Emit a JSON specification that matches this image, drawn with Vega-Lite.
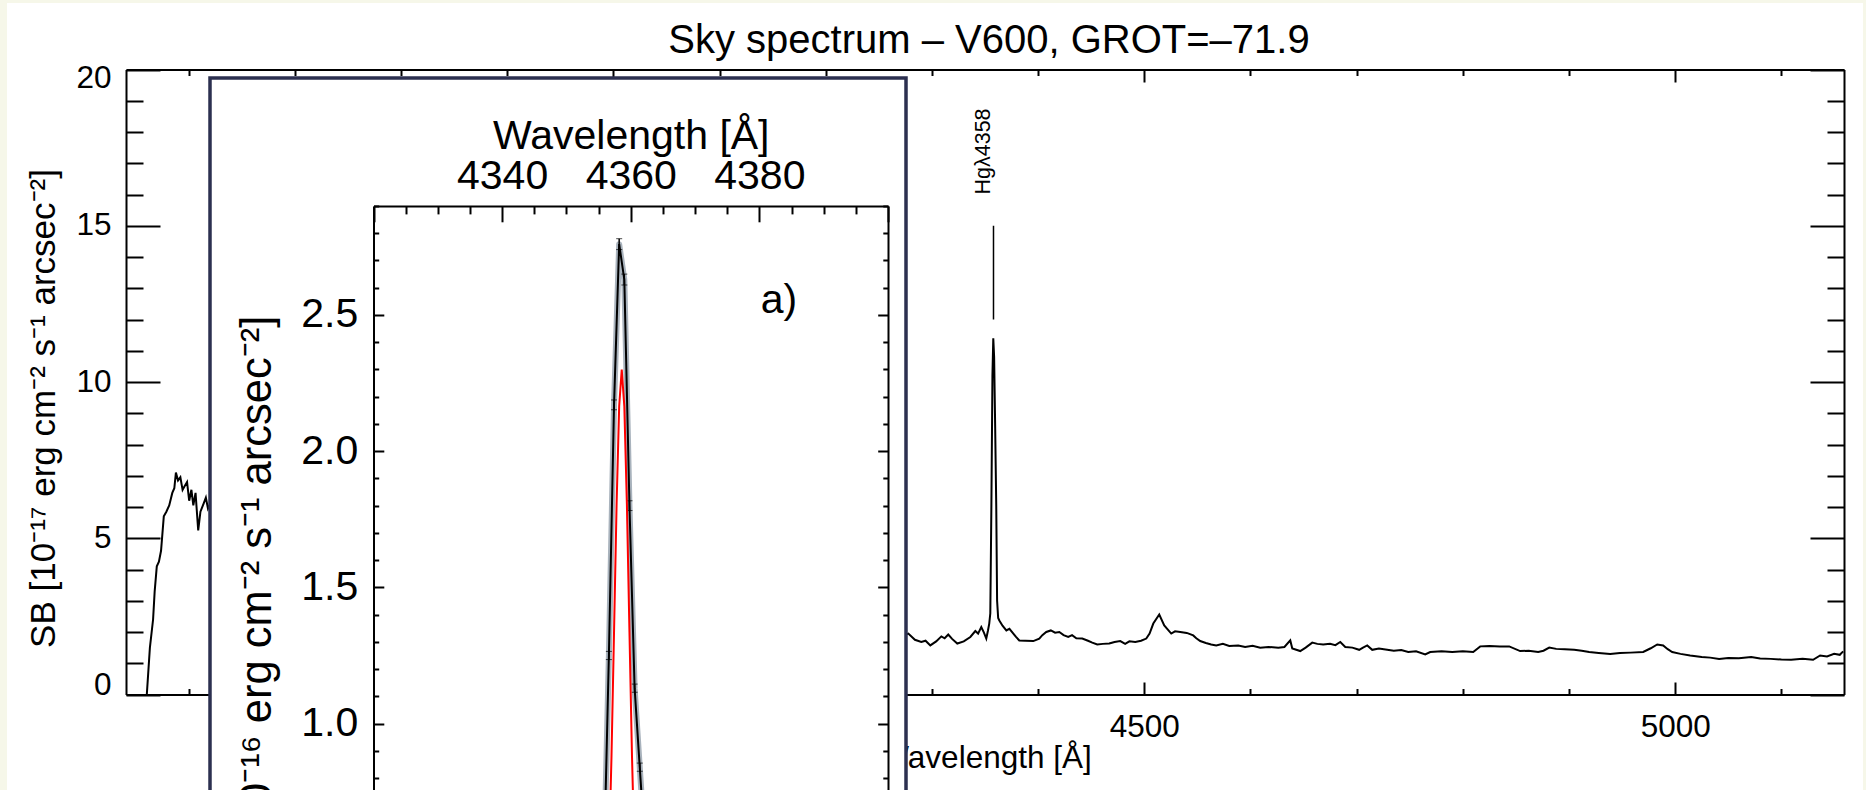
{
  "$schema": "https://vega.github.io/schema/vega-lite/v6.json",
  "width": 1856,
  "height": 787,
  "padding": {"left": 7, "top": 3, "right": 3, "bottom": 0},
  "autosize": {"type": "none"},
  "background": "#f6f7e9",
  "config": {
    "view": {"fill": "white", "stroke": null},
    "font": "Liberation Sans",
    "axis": {
      "grid": false,
      "domainColor": "black",
      "tickColor": "black",
      "labelColor": "black",
      "titleColor": "black",
      "labelFont": "Liberation Sans",
      "titleFont": "Liberation Sans",
      "titleFontWeight": "normal",
      "domainWidth": 2,
      "tickWidth": 2,
      "labelOverlap": false,
      "labelBound": false
    }
  },
  "title": {
    "text": "Sky spectrum – V600, GROT=–71.9",
    "font": "Liberation Sans",
    "fontSize": 40,
    "fontWeight": "normal",
    "color": "black",
    "anchor": "middle",
    "frame": "group",
    "baseline": "alphabetic",
    "offset": -90,
    "dx": 54
  },
  "datasets": {
    "main": [
      {"wl": 3560.6, "sb": 0}, {"wl": 3563.5, "sb": 1.5}, {"wl": 3566.5, "sb": 2.4}, {"wl": 3568, "sb": 3.3},
      {"wl": 3570, "sb": 4.1}, {"wl": 3572, "sb": 4.25}, {"wl": 3574, "sb": 4.6}, {"wl": 3576.6, "sb": 5.7},
      {"wl": 3579, "sb": 5.85}, {"wl": 3581.7, "sb": 6.05}, {"wl": 3584.6, "sb": 6.45}, {"wl": 3586.5, "sb": 6.6},
      {"wl": 3588, "sb": 7.1}, {"wl": 3590, "sb": 6.85}, {"wl": 3592.2, "sb": 6.95}, {"wl": 3594.3, "sb": 6.55},
      {"wl": 3595.9, "sb": 6.65}, {"wl": 3598.5, "sb": 6.8}, {"wl": 3600.5, "sb": 6.2}, {"wl": 3602.6, "sb": 6.55},
      {"wl": 3604.4, "sb": 6.05}, {"wl": 3606.5, "sb": 6.45}, {"wl": 3609, "sb": 5.25}, {"wl": 3611.1, "sb": 5.85},
      {"wl": 3614, "sb": 6.1}, {"wl": 3616.2, "sb": 6.3}, {"wl": 3618.2, "sb": 5.95}, {"wl": 3620.3, "sb": 6.1},
      {"wl": 3625, "sb": 5.8}, {"wl": 3700, "sb": 4.0}, {"wl": 3900, "sb": 2.5}, {"wl": 4100, "sb": 1.9},
      {"wl": 4265, "sb": 1.8}, {"wl": 4277.8, "sb": 1.95}, {"wl": 4284, "sb": 1.75}, {"wl": 4290.0, "sb": 1.68},
      {"wl": 4294, "sb": 1.72}, {"wl": 4298.5, "sb": 1.57}, {"wl": 4304, "sb": 1.7}, {"wl": 4308.9, "sb": 1.86},
      {"wl": 4312, "sb": 1.8}, {"wl": 4315.4, "sb": 1.92}, {"wl": 4319, "sb": 1.78}, {"wl": 4323.9, "sb": 1.63},
      {"wl": 4330, "sb": 1.7}, {"wl": 4336.2, "sb": 1.84}, {"wl": 4340.9, "sb": 2.03}, {"wl": 4343.5, "sb": 1.95},
      {"wl": 4346.5, "sb": 2.16}, {"wl": 4349, "sb": 1.98}, {"wl": 4351.2, "sb": 1.79}, {"wl": 4352.8, "sb": 2.05},
      {"wl": 4354.0, "sb": 2.27}, {"wl": 4355.0, "sb": 2.6}, {"wl": 4356.0, "sb": 6.0}, {"wl": 4357.0, "sb": 10.2},
      {"wl": 4357.8, "sb": 11.4}, {"wl": 4358.6, "sb": 10.8}, {"wl": 4359.6, "sb": 8.5}, {"wl": 4360.6, "sb": 6.0},
      {"wl": 4361.4, "sb": 3.0}, {"wl": 4362.4, "sb": 2.45}, {"wl": 4363.5, "sb": 2.37}, {"wl": 4366.5, "sb": 2.2},
      {"wl": 4370.1, "sb": 2.05}, {"wl": 4373, "sb": 2.1}, {"wl": 4376.7, "sb": 1.95}, {"wl": 4379, "sb": 1.85},
      {"wl": 4382.3, "sb": 1.73}, {"wl": 4388, "sb": 1.72}, {"wl": 4395.5, "sb": 1.71}, {"wl": 4401.1, "sb": 1.79},
      {"wl": 4404, "sb": 1.9}, {"wl": 4407.7, "sb": 2.0}, {"wl": 4412, "sb": 2.05}, {"wl": 4416, "sb": 1.98},
      {"wl": 4420.0, "sb": 2.0}, {"wl": 4424, "sb": 1.9}, {"wl": 4428.4, "sb": 1.84}, {"wl": 4432, "sb": 1.9},
      {"wl": 4436, "sb": 1.8}, {"wl": 4441.6, "sb": 1.79}, {"wl": 4447, "sb": 1.72}, {"wl": 4451, "sb": 1.66},
      {"wl": 4455.7, "sb": 1.6}, {"wl": 4461, "sb": 1.62}, {"wl": 4467.0, "sb": 1.63}, {"wl": 4472, "sb": 1.68},
      {"wl": 4477.4, "sb": 1.71}, {"wl": 4482, "sb": 1.62}, {"wl": 4486, "sb": 1.7}, {"wl": 4491.5, "sb": 1.68},
      {"wl": 4497, "sb": 1.72}, {"wl": 4501.9, "sb": 1.79}, {"wl": 4505, "sb": 1.95}, {"wl": 4508.5, "sb": 2.27},
      {"wl": 4514.1, "sb": 2.56}, {"wl": 4518.8, "sb": 2.21}, {"wl": 4525.4, "sb": 1.95}, {"wl": 4529, "sb": 2.02},
      {"wl": 4533.9, "sb": 2.0}, {"wl": 4540, "sb": 1.97}, {"wl": 4546.1, "sb": 1.89}, {"wl": 4549, "sb": 1.8},
      {"wl": 4552.7, "sb": 1.71}, {"wl": 4558, "sb": 1.65}, {"wl": 4563, "sb": 1.6}, {"wl": 4567.8, "sb": 1.57},
      {"wl": 4574, "sb": 1.62}, {"wl": 4580, "sb": 1.55}, {"wl": 4588.5, "sb": 1.57}, {"wl": 4595, "sb": 1.52},
      {"wl": 4602, "sb": 1.56}, {"wl": 4609.2, "sb": 1.5}, {"wl": 4617, "sb": 1.52}, {"wl": 4626.2, "sb": 1.5},
      {"wl": 4632, "sb": 1.52}, {"wl": 4637.5, "sb": 1.73}, {"wl": 4639.4, "sb": 1.47}, {"wl": 4646.9, "sb": 1.39},
      {"wl": 4652, "sb": 1.5}, {"wl": 4658.2, "sb": 1.66}, {"wl": 4663, "sb": 1.62}, {"wl": 4668.5, "sb": 1.6},
      {"wl": 4675, "sb": 1.62}, {"wl": 4680, "sb": 1.58}, {"wl": 4684.6, "sb": 1.68}, {"wl": 4689.3, "sb": 1.52},
      {"wl": 4696, "sb": 1.5}, {"wl": 4702.4, "sb": 1.43}, {"wl": 4706, "sb": 1.5}, {"wl": 4710.0, "sb": 1.57},
      {"wl": 4714.7, "sb": 1.43}, {"wl": 4721, "sb": 1.47}, {"wl": 4728.8, "sb": 1.43}, {"wl": 4735, "sb": 1.4},
      {"wl": 4742, "sb": 1.42}, {"wl": 4748.6, "sb": 1.36}, {"wl": 4756, "sb": 1.38}, {"wl": 4764.6, "sb": 1.28},
      {"wl": 4769.3, "sb": 1.36}, {"wl": 4780, "sb": 1.38}, {"wl": 4790, "sb": 1.36}, {"wl": 4800, "sb": 1.38},
      {"wl": 4809.8, "sb": 1.36}, {"wl": 4816.4, "sb": 1.54}, {"wl": 4825, "sb": 1.55}, {"wl": 4835, "sb": 1.54},
      {"wl": 4843.7, "sb": 1.54}, {"wl": 4854.0, "sb": 1.39}, {"wl": 4862, "sb": 1.4}, {"wl": 4871.0, "sb": 1.36},
      {"wl": 4876, "sb": 1.4}, {"wl": 4881.4, "sb": 1.5}, {"wl": 4888, "sb": 1.46}, {"wl": 4896, "sb": 1.45},
      {"wl": 4904.9, "sb": 1.43}, {"wl": 4912, "sb": 1.4}, {"wl": 4919.0, "sb": 1.36}, {"wl": 4928, "sb": 1.33},
      {"wl": 4938.8, "sb": 1.3}, {"wl": 4948, "sb": 1.33}, {"wl": 4958, "sb": 1.34}, {"wl": 4969.9, "sb": 1.36},
      {"wl": 4977, "sb": 1.48}, {"wl": 4983.1, "sb": 1.6}, {"wl": 4988.7, "sb": 1.57}, {"wl": 4993, "sb": 1.45},
      {"wl": 4997.2, "sb": 1.36}, {"wl": 5005, "sb": 1.3}, {"wl": 5014.1, "sb": 1.25}, {"wl": 5025, "sb": 1.2},
      {"wl": 5033, "sb": 1.18}, {"wl": 5041.4, "sb": 1.14}, {"wl": 5050, "sb": 1.17}, {"wl": 5060, "sb": 1.16},
      {"wl": 5071.6, "sb": 1.2}, {"wl": 5080, "sb": 1.15}, {"wl": 5090, "sb": 1.14}, {"wl": 5100, "sb": 1.12},
      {"wl": 5109.2, "sb": 1.11}, {"wl": 5120, "sb": 1.14}, {"wl": 5129.9, "sb": 1.11}, {"wl": 5136.5, "sb": 1.25},
      {"wl": 5143, "sb": 1.22}, {"wl": 5149.7, "sb": 1.3}, {"wl": 5155, "sb": 1.27}, {"wl": 5158.2, "sb": 1.38}
    ],
    "hg": [{"wl": 4358, "name": "Hgλ4358"}],
    "inset": [
      {"wl": 4320, "sb": 0.17, "lo": 0.155, "hi": 0.185},
      {"wl": 4330, "sb": 0.16, "lo": 0.145, "hi": 0.175},
      {"wl": 4340, "sb": 0.18, "lo": 0.165, "hi": 0.195},
      {"wl": 4350, "sb": 0.17, "lo": 0.155, "hi": 0.185},
      {"wl": 4353.4, "sb": 0.19, "lo": 0.175, "hi": 0.205},
      {"wl": 4354.2, "sb": 0.2, "lo": 0.185, "hi": 0.215},
      {"wl": 4355.0, "sb": 0.28, "lo": 0.265, "hi": 0.295},
      {"wl": 4355.8, "sb": 0.45, "lo": 0.435, "hi": 0.465},
      {"wl": 4356.6, "sb": 1.25, "lo": 1.235, "hi": 1.265},
      {"wl": 4357.4, "sb": 2.17, "lo": 2.152, "hi": 2.188},
      {"wl": 4358.2, "sb": 2.76, "lo": 2.74, "hi": 2.78},
      {"wl": 4359.0, "sb": 2.63, "lo": 2.61, "hi": 2.65},
      {"wl": 4359.8, "sb": 1.8, "lo": 1.782, "hi": 1.818},
      {"wl": 4360.6, "sb": 1.13, "lo": 1.115, "hi": 1.145},
      {"wl": 4361.4, "sb": 0.84, "lo": 0.825, "hi": 0.855},
      {"wl": 4362.2, "sb": 0.55, "lo": 0.535, "hi": 0.565},
      {"wl": 4363.0, "sb": 0.32, "lo": 0.305, "hi": 0.335},
      {"wl": 4363.8, "sb": 0.22, "lo": 0.205, "hi": 0.235},
      {"wl": 4365, "sb": 0.2, "lo": 0.185, "hi": 0.215},
      {"wl": 4370, "sb": 0.19, "lo": 0.175, "hi": 0.205},
      {"wl": 4380, "sb": 0.18, "lo": 0.165, "hi": 0.195},
      {"wl": 4390, "sb": 0.17, "lo": 0.155, "hi": 0.185},
      {"wl": 4400, "sb": 0.17, "lo": 0.155, "hi": 0.185}
    ],
    "model": [
      {"wl": 4320, "sb": 0}, {"wl": 4354.2, "sb": 0}, {"wl": 4354.6, "sb": 0.005}, {"wl": 4355.0, "sb": 0.017},
      {"wl": 4355.4, "sb": 0.048}, {"wl": 4355.8, "sb": 0.119}, {"wl": 4356.2, "sb": 0.261}, {"wl": 4356.6, "sb": 0.507},
      {"wl": 4357.0, "sb": 0.874}, {"wl": 4357.4, "sb": 1.335}, {"wl": 4357.8, "sb": 1.806}, {"wl": 4358.2, "sb": 2.165},
      {"wl": 4358.6, "sb": 2.3}, {"wl": 4359.0, "sb": 2.165}, {"wl": 4359.4, "sb": 1.806}, {"wl": 4359.8, "sb": 1.335},
      {"wl": 4360.2, "sb": 0.874}, {"wl": 4360.6, "sb": 0.507}, {"wl": 4361.0, "sb": 0.261}, {"wl": 4361.4, "sb": 0.119},
      {"wl": 4361.8, "sb": 0.048}, {"wl": 4362.2, "sb": 0.017}, {"wl": 4362.6, "sb": 0.005}, {"wl": 4363.0, "sb": 0},
      {"wl": 4400, "sb": 0}
    ]
  },
  "layer": [
    {
      "layer": [
        {
          "data": {"name": "main"},
          "mark": {"type": "line", "color": "black", "strokeWidth": 2},
          "encoding": {
            "x": {
              "field": "wl", "type": "quantitative",
              "scale": {"domain": [3541, 5159], "range": [119, 1837], "nice": false, "zero": false},
              "axis": {
                "orient": "bottom", "offset": -95.5,
                "values": [3600, 3700, 3800, 3900, 4000, 4100, 4200, 4300, 4400, 4500, 4600, 4700, 4800, 4900, 5000, 5100],
                "labelExpr": "datum.value % 500 === 0 ? format(datum.value, 'd') : ''",
                "tickSize": {"condition": {"test": "datum.value % 500 === 0", "value": -12.5}, "value": -6},
                "labelPadding": 54, "labelBaseline": "alphabetic", "labelFontSize": 31.5, "labelFlush": false,
                "title": "Wavelength [Å]", "titleFontSize": 31.5, "titleBaseline": "alphabetic", "titleY": 73
              }
            },
            "y": {
              "field": "sb", "type": "quantitative",
              "scale": {"domain": [0, 20], "range": [691.5, 66.5], "nice": false, "zero": false},
              "axis": {
                "orient": "left", "offset": -119,
                "values": [0, 1, 2, 3, 4, 5, 6, 7, 8, 9, 10, 11, 12, 13, 14, 15, 16, 17, 18, 19, 20],
                "labelExpr": "datum.value % 5 === 0 ? format(datum.value, 'd') : ''",
                "tickSize": {"condition": {"test": "datum.value % 5 === 0", "value": -34}, "value": -17},
                "labelPadding": 49, "labelFontSize": 31.5, "labelFlush": true, "labelFlushOffset": 7,
                "title": "SB [10⁻¹⁷ erg cm⁻² s⁻¹ arcsec⁻²]", "titleFontSize": 35,
                "titleBaseline": "alphabetic", "titleAngle": 270, "titleX": -71.5, "titleY": 405
              }
            }
          }
        },
        {
          "data": {"name": "hg"},
          "mark": {"type": "rule", "color": "black", "strokeWidth": 1.5},
          "encoding": {
            "x": {
              "field": "wl", "type": "quantitative",
              "axis": {
                "orient": "top", "offset": -66.5,
                "values": [3600, 3700, 3800, 3900, 4000, 4100, 4200, 4300, 4400, 4500, 4600, 4700, 4800, 4900, 5000, 5100],
                "labels": false, "title": null,
                "tickSize": {"condition": {"test": "datum.value % 500 === 0", "value": -12.5}, "value": -6}
              }
            },
            "y": {
              "datum": 12, "type": "quantitative",
              "axis": {
                "orient": "right", "offset": -19,
                "values": [0, 1, 2, 3, 4, 5, 6, 7, 8, 9, 10, 11, 12, 13, 14, 15, 16, 17, 18, 19, 20],
                "labels": false, "title": null,
                "tickSize": {"condition": {"test": "datum.value % 5 === 0", "value": -34}, "value": -17}
              }
            },
            "y2": {"datum": 15}
          }
        },
        {
          "data": {"name": "hg"},
          "mark": {"type": "text", "angle": 270, "align": "left", "baseline": "alphabetic", "fontSize": 21.5, "dy": -3, "font": "Liberation Sans", "color": "black"},
          "encoding": {
            "x": {"field": "wl", "type": "quantitative", "axis": null},
            "y": {"datum": 16, "type": "quantitative", "axis": null},
            "text": {"field": "name"}
          }
        }
      ],
      "resolve": {"axis": {"x": "independent", "y": "independent"}}
    },
    {
      "data": {"values": [{}]},
      "mark": {"type": "rect", "fill": "white", "stroke": "#2c3050", "strokeWidth": 3.5},
      "encoding": {
        "x": {"datum": 0, "type": "quantitative", "scale": {"domain": [0, 1], "range": [203, 899]}, "axis": null},
        "x2": {"datum": 1},
        "y": {"datum": 1, "type": "quantitative", "scale": {"domain": [0, 1], "range": [1100, 75]}, "axis": null},
        "y2": {"datum": 0}
      }
    },
    {
      "layer": [
        {
          "data": {"name": "inset"},
          "mark": {"type": "line", "color": "#a9b3bd", "strokeWidth": 6, "strokeJoin": "round"},
          "encoding": {
            "x": {
              "field": "wl", "type": "quantitative",
              "scale": {"domain": [4320, 4400], "range": [366.5, 881], "nice": false, "zero": false},
              "axis": {
                "orient": "top", "offset": -203, "zindex": 1,
                "values": [4320, 4325, 4330, 4335, 4340, 4345, 4350, 4355, 4360, 4365, 4370, 4375, 4380, 4385, 4390, 4395, 4400],
                "labelExpr": "(datum.value % 20 === 0 && datum.value > 4320 && datum.value < 4400) ? format(datum.value, 'd') : ''",
                "tickSize": {"condition": {"test": "datum.value % 20 === 0", "value": -15.8}, "value": -7.9},
                "labelPadding": 33.7, "labelBaseline": "alphabetic", "labelFontSize": 41, "labelFlush": false,
                "title": "Wavelength [Å]", "titleFontSize": 41, "titleBaseline": "alphabetic", "titleY": -58
              }
            },
            "y": {
              "field": "sb", "type": "quantitative",
              "scale": {"domain": [0, 2.9], "range": [993, 203], "nice": false, "zero": false},
              "axis": {
                "orient": "left", "offset": -366.5, "zindex": 1,
                "values": [0, 0.1, 0.2, 0.3, 0.4, 0.5, 0.6, 0.7, 0.8, 0.9, 1.0, 1.1, 1.2, 1.3, 1.4, 1.5, 1.6, 1.7, 1.8, 1.9, 2.0, 2.1, 2.2, 2.3, 2.4, 2.5, 2.6, 2.7, 2.8, 2.9],
                "labelExpr": "abs(datum.value * 2 - round(datum.value * 2)) < 0.01 ? format(datum.value, '.1f') : ''",
                "tickSize": {"condition": {"test": "abs(datum.value * 2 - round(datum.value * 2)) < 0.01", "value": -10.3}, "value": -5.2},
                "labelPadding": 26, "labelFontSize": 41, "labelFlush": false,
                "title": "SB [10⁻¹⁶ erg cm⁻² s⁻¹ arcsec⁻²]", "titleFontSize": 43.5,
                "titleBaseline": "alphabetic", "titleAngle": 270, "titleX": -103.5, "titleY": 611
              }
            }
          }
        },
        {
          "data": {"name": "inset"},
          "mark": {"type": "line", "color": "black", "strokeWidth": 2},
          "encoding": {
            "x": {"field": "wl", "type": "quantitative", "axis": null},
            "y": {
              "field": "sb", "type": "quantitative",
              "axis": {
                "orient": "right", "offset": -975, "zindex": 1,
                "values": [0, 0.1, 0.2, 0.3, 0.4, 0.5, 0.6, 0.7, 0.8, 0.9, 1.0, 1.1, 1.2, 1.3, 1.4, 1.5, 1.6, 1.7, 1.8, 1.9, 2.0, 2.1, 2.2, 2.3, 2.4, 2.5, 2.6, 2.7, 2.8, 2.9],
                "labels": false, "title": null,
                "tickSize": {"condition": {"test": "abs(datum.value * 2 - round(datum.value * 2)) < 0.01", "value": -10.3}, "value": -5.2}
              }
            }
          }
        },
        {
          "data": {"name": "inset"},
          "mark": {"type": "errorbar", "color": "black", "ticks": {"size": 6, "strokeWidth": 1.5}, "rule": {"strokeWidth": 1.5}},
          "encoding": {
            "x": {"field": "wl", "type": "quantitative", "axis": null},
            "y": {"field": "lo", "type": "quantitative", "axis": null},
            "y2": {"field": "hi"}
          }
        },
        {
          "data": {"name": "model"},
          "mark": {"type": "line", "color": "red", "strokeWidth": 2},
          "encoding": {
            "x": {"field": "wl", "type": "quantitative", "axis": null},
            "y": {"field": "sb", "type": "quantitative", "axis": null}
          }
        },
        {
          "data": {"values": [{"t": "a)"}]},
          "mark": {"type": "text", "fontSize": 41, "align": "left", "baseline": "middle", "font": "Liberation Sans", "color": "black"},
          "encoding": {
            "x": {"datum": 4380.2, "type": "quantitative", "axis": null},
            "y": {"datum": 2.55, "type": "quantitative", "axis": null},
            "text": {"field": "t"}
          }
        }
      ],
      "resolve": {"axis": {"x": "independent", "y": "independent"}}
    }
  ],
  "resolve": {
    "scale": {"x": "independent", "y": "independent"},
    "axis": {"x": "independent", "y": "independent"}
  }
}
